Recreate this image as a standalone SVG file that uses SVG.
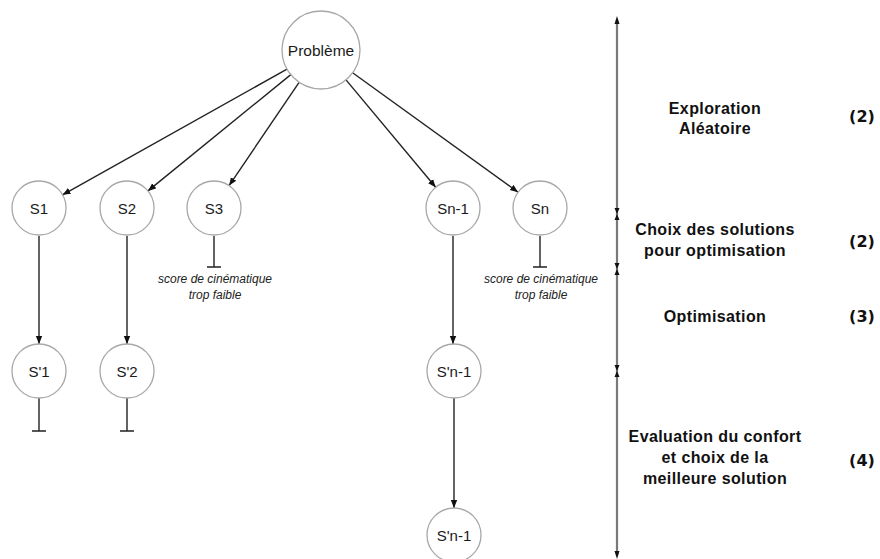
<svg xmlns="http://www.w3.org/2000/svg" width="880" height="559" viewBox="0 0 880 559">
<defs>
<marker id="arr" viewBox="0 0 10 10" refX="10" refY="5" markerWidth="8" markerHeight="8" markerUnits="userSpaceOnUse" orient="auto">
<path d="M0,1 L10,5 L0,9 Z" fill="#111"/>
</marker>
</defs>
<style>
.node circle{fill:#fff;stroke:#a8a8a8;stroke-width:1.3}
.node text{font-family:"Liberation Sans",Arial,sans-serif;font-size:15px;fill:#1a1a1a;text-anchor:middle}
.edge{stroke:#222;stroke-width:1.4;fill:none}
.arrow{marker-end:url(#arr)}
.note{font-family:"Liberation Sans",Arial,sans-serif;font-size:12px;font-style:italic;fill:#222;text-anchor:middle}
.phase{font-family:"Liberation Sans",Arial,sans-serif;font-size:16px;font-weight:bold;letter-spacing:0.4px;fill:#111;text-anchor:middle}
.num{font-family:"DejaVu Sans",sans-serif;font-size:16px;font-weight:bold;fill:#111;text-anchor:middle}
.tick{fill:#111}
</style>
<rect width="880" height="559" fill="#fff"/>

<g id="connectors">
<line class="edge arrow" x1="287" y1="69.1" x2="62.6" y2="194.8"/>
<line class="edge arrow" x1="290.8" y1="74.6" x2="148" y2="190.9"/>
<line class="edge arrow" x1="299.1" y1="82.3" x2="229.1" y2="185.6"/>
<line class="edge arrow" x1="346" y1="79.9" x2="435.7" y2="187.3"/>
<line class="edge arrow" x1="352.6" y1="72.8" x2="518.1" y2="192.2"/>
<line class="edge arrow" x1="39" y1="236" x2="39" y2="344"/>
<line class="edge arrow" x1="127" y1="236" x2="127" y2="344"/>
<line class="edge arrow" x1="453" y1="236" x2="453" y2="344"/>
<line class="edge arrow" x1="454" y1="398" x2="454" y2="508"/>
<path class="edge" d="M39,398 V431 M32,431 H46"/>
<path class="edge" d="M127,398 V431 M120,431 H134"/>
<path class="edge" d="M214,236 V267 M207,267 H221"/>
<path class="edge" d="M540,236 V267 M533,267 H547" stroke="#555" stroke-width="2"/>
</g>

<g id="n-probleme" class="node"><circle cx="321" cy="50" r="39"/><text x="321" y="55.5" style="font-size:15.5px">Problème</text></g>
<g id="n-s1" class="node"><circle cx="39" cy="208" r="27"/><text x="39" y="214">S1</text></g>
<g id="n-s2" class="node"><circle cx="127" cy="208" r="27"/><text x="127" y="214">S2</text></g>
<g id="n-s3" class="node"><circle cx="214" cy="208" r="27"/><text x="214" y="214">S3</text></g>
<g id="n-sn1" class="node"><circle cx="453" cy="208" r="27"/><text x="453" y="214">Sn-1</text></g>
<g id="n-sn" class="node"><circle cx="540" cy="208" r="27"/><text x="540" y="214">Sn</text></g>
<g id="n-sp1" class="node"><circle cx="39" cy="371" r="27"/><text x="39" y="377">S'1</text></g>
<g id="n-sp2" class="node"><circle cx="127" cy="371" r="27"/><text x="127" y="377">S'2</text></g>
<g id="n-spn1" class="node"><circle cx="454" cy="371" r="27"/><text x="454" y="377">S'n-1</text></g>
<g id="n-spn1b" class="node"><circle cx="454" cy="535" r="27"/><text x="454" y="541">S'n-1</text></g>

<g id="notes">
<text class="note" x="215" y="283">score de cinématique</text>
<text class="note" x="215" y="299">trop faible</text>
<text class="note" x="541" y="283">score de cinématique</text>
<text class="note" x="541" y="299">trop faible</text>
</g>

<g id="timeline">
<line x1="617" y1="20" x2="617" y2="555" stroke="#7a7a7a" stroke-width="2.2"/>
<path class="tick" d="M614.5,24 L619.5,24 L617,16 Z"/>
<path class="tick" d="M614.5,551 L619.5,551 L617,559 Z"/>
<path class="tick" d="M614.5,208 L619.5,208 L617,214 Z M614.5,220 L619.5,220 L617,214 Z"/>
<path class="tick" d="M614.5,263 L619.5,263 L617,269 Z M614.5,275 L619.5,275 L617,269 Z"/>
<path class="tick" d="M614.5,365 L619.5,365 L617,371 Z M614.5,377 L619.5,377 L617,371 Z"/>
</g>

<g id="phases">
<text class="phase" x="715" y="114">Exploration</text>
<text class="phase" x="715" y="134">Aléatoire</text>
<text class="num" x="862" y="122">(2)</text>
<text class="phase" x="715" y="235">Choix des solutions</text>
<text class="phase" x="715" y="256">pour optimisation</text>
<text class="num" x="862" y="247">(2)</text>
<text class="phase" x="715" y="322">Optimisation</text>
<text class="num" x="862" y="322">(3)</text>
<text class="phase" x="715" y="442">Evaluation du confort</text>
<text class="phase" x="715" y="463">et choix de la</text>
<text class="phase" x="715" y="484">meilleure solution</text>
<text class="num" x="862" y="466">(4)</text>
</g>
</svg>
